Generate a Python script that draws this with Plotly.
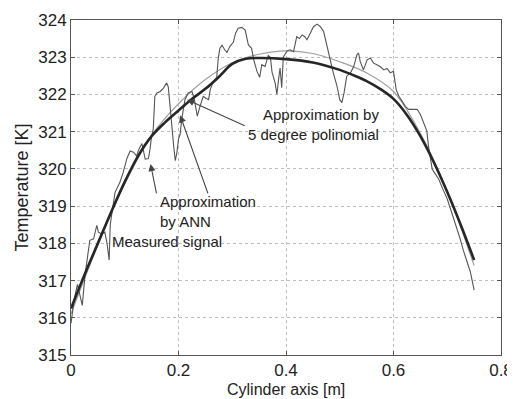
import plotly.graph_objects as go

# Measured signal
meas_x = [0.000, 0.006, 0.012, 0.017, 0.021, 0.026, 0.032, 0.035, 0.042, 0.048, 0.051, 0.057, 0.063, 0.067, 0.071,
          0.073, 0.078, 0.082, 0.091, 0.097, 0.104, 0.110, 0.116, 0.122, 0.127, 0.132, 0.138, 0.144, 0.147, 0.150,
          0.153, 0.156, 0.160, 0.166, 0.172, 0.178, 0.181, 0.184, 0.187, 0.191, 0.194, 0.197, 0.200, 0.203, 0.206,
          0.209, 0.212, 0.218, 0.225, 0.229, 0.235, 0.240, 0.246, 0.251, 0.256, 0.259, 0.265, 0.271, 0.274, 0.277,
          0.281, 0.286, 0.290, 0.296, 0.302, 0.306, 0.311, 0.318, 0.324, 0.330, 0.336, 0.340, 0.346, 0.351, 0.355,
          0.361, 0.367, 0.371, 0.374, 0.380, 0.383, 0.387, 0.389, 0.392, 0.395, 0.402, 0.408, 0.414, 0.420, 0.425,
          0.430, 0.435, 0.439, 0.445, 0.451, 0.458, 0.464, 0.470, 0.476, 0.482, 0.488, 0.495, 0.500, 0.504, 0.508,
          0.513, 0.520, 0.526, 0.532, 0.535, 0.538, 0.544, 0.551, 0.557, 0.563, 0.569, 0.575, 0.582, 0.588, 0.594,
          0.600, 0.605, 0.610, 0.616, 0.622, 0.628, 0.637, 0.644, 0.650, 0.656, 0.662, 0.665, 0.669, 0.672, 0.678,
          0.684, 0.692, 0.700, 0.712, 0.718, 0.724, 0.730, 0.737, 0.743, 0.750]
meas_y = [315.85, 316.50, 316.90, 316.60, 316.33, 317.14, 317.77, 318.08, 318.12, 318.48, 318.30, 318.25, 318.30, 318.00, 317.55,
          318.50, 319.00, 319.37, 319.64, 319.90, 320.28, 320.48, 320.45, 320.35, 320.55, 320.68, 320.26, 320.28, 320.53, 320.88,
          321.06, 321.95, 322.04, 322.08, 322.17, 322.31, 322.20, 321.68, 321.15, 320.62, 320.22, 320.44, 320.80, 320.93, 321.33,
          321.64, 321.86, 322.04, 322.08, 321.90, 321.42, 321.68, 321.95, 321.90, 321.86, 322.13, 322.35, 322.45, 322.98, 323.24,
          323.32, 323.20, 323.13, 323.30, 323.40, 323.64, 323.78, 323.80, 323.73, 323.33, 323.24, 322.93, 322.62, 322.46, 322.80,
          322.75, 323.05, 323.00, 322.60, 322.30, 322.00, 322.50, 322.71, 322.18, 323.00, 323.17, 323.20, 323.15, 323.55, 323.50,
          323.60, 323.55, 323.47, 323.64, 323.82, 323.89, 323.82, 323.69, 323.29, 322.93, 322.58, 322.22, 321.86, 321.78, 322.04,
          322.49, 322.58, 322.75, 323.07, 323.11, 322.89, 322.66, 322.93, 322.98, 322.84, 322.80, 322.75, 322.66, 322.70, 322.58,
          322.62, 322.13, 321.95, 321.82, 321.68, 321.60, 321.61, 321.60, 321.46, 321.24, 321.02, 320.62, 320.26, 319.99, 319.86,
          319.73, 319.45, 319.19, 318.66, 318.40, 318.12, 317.81, 317.50, 317.23, 316.74]

# Approximation by ANN
ann_x = [0.0, 0.025, 0.05, 0.075, 0.1, 0.125, 0.15, 0.175, 0.2, 0.225, 0.25, 0.275, 0.3, 0.325, 0.35, 0.4,
         0.45, 0.5, 0.525, 0.55, 0.575, 0.6, 0.625, 0.65, 0.675, 0.7, 0.725, 0.75]
ann_y = [316.25, 317.15, 318.0, 318.85, 319.65, 320.35, 320.88, 321.25, 321.57, 321.88, 322.15, 322.47, 322.82, 322.96, 322.98, 322.95,
         322.86, 322.66, 322.52, 322.36, 322.15, 321.88, 321.45, 320.88, 320.18, 319.38, 318.5, 317.55]

# Approximation by 5 degree polynomial
poly_x = [0.0, 0.05, 0.1, 0.15, 0.2, 0.25, 0.3, 0.35, 0.4, 0.45, 0.5, 0.55, 0.6, 0.65, 0.7, 0.75]
poly_y = [316.1, 317.95, 319.6, 320.9, 321.75, 322.4, 322.85, 323.08, 323.17, 323.1, 322.88, 322.58, 322.08, 320.95, 319.4, 317.4]

x_ticks = [0, 0.2, 0.4, 0.6, 0.8]
x_tick_labels = ["0", "0.2", "0.4", "0.6", "0.8"]
y_ticks = [315, 316, 317, 318, 319, 320, 321, 322, 323, 324]

FONT = "Liberation Sans, Arial, Helvetica, sans-serif"

fig = go.Figure()
fig.add_trace(go.Scatter(x=poly_x, y=poly_y, mode="lines", line=dict(color="#a0a0a0", width=1.2, shape="spline"),
                         name="5 degree polinomial"))
fig.add_trace(go.Scatter(x=meas_x, y=meas_y, mode="lines", line=dict(color="#555555", width=1.1),
                         name="Measured signal"))
fig.add_trace(go.Scatter(x=ann_x, y=ann_y, mode="lines", line=dict(color="#262626", width=2.6, shape="spline"),
                         name="ANN"))

arrow_style = dict(showarrow=True, arrowhead=2, arrowsize=1.3, arrowwidth=1.1, arrowcolor="#444444",
                   axref="x", ayref="y", text="", xref="x", yref="y")
fig.add_annotation(x=0.148, y=320.13, ax=0.1596, ay=319.30, **arrow_style)
fig.add_annotation(x=0.203, y=321.44, ax=0.2557, ay=319.30, **arrow_style)
fig.add_annotation(x=0.216, y=321.86, ax=0.326, ay=321.14, **arrow_style)

txt_font = dict(family=FONT, size=15, color="#222222")
fig.add_annotation(x=0.577, y=321.2, text="Approximation by<br>5 degree polinomial", showarrow=False,
                   xanchor="right", yanchor="middle", align="right", font=txt_font)
fig.add_annotation(x=0.162, y=318.86, text="Approximation<br>by ANN", showarrow=False,
                   xanchor="left", yanchor="middle", align="left", font=txt_font)
fig.add_annotation(x=0.0726, y=318.04, text="Measured signal", showarrow=False,
                   xanchor="left", yanchor="middle", align="left", font=txt_font)

# x-axis title placed as a paper annotation so it fits in the tight bottom margin
fig.add_annotation(x=0.5, y=0, xref="paper", yref="paper", text="Cylinder axis [m]", showarrow=False,
                   xanchor="center", yanchor="top", yshift=-25, borderpad=0,
                   font=dict(family=FONT, size=16, color="#222222"))

axis_common = dict(showline=True, linecolor="#555555", linewidth=1, mirror="ticks", ticks="inside", ticklen=4,
                   tickcolor="#555555", showgrid=True, gridcolor="#bdbdbd", griddash="dot", gridwidth=1,
                   zeroline=False, automargin=False, tickfont=dict(family=FONT, size=17, color="#222222"))

# the page body adds an 8px margin, so the figure is sized to the remaining visible area
fig.update_layout(
    width=507, height=391,
    margin=dict(l=63, r=14, t=12, b=44),
    paper_bgcolor="white", plot_bgcolor="white",
    showlegend=False,
    font=dict(family=FONT, color="#222222"),
    xaxis=dict(range=[0, 0.8], tickvals=x_ticks, ticktext=x_tick_labels, **axis_common),
    yaxis=dict(range=[315, 324], tickvals=y_ticks,
               title=dict(text="Temperature [K]", font=dict(family=FONT, size=18, color="#222222"), standoff=4),
               **axis_common),
)

fig.write_html("out.html")
